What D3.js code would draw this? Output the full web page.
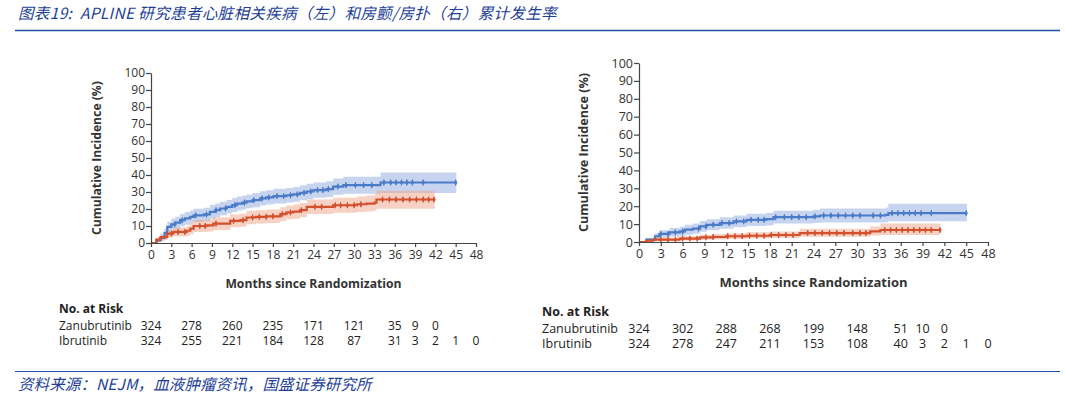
<!DOCTYPE html>
<html><head><meta charset="utf-8">
<script src="https://cdn.jsdelivr.net/npm/d3@7"></script>
<style>body{margin:0;background:#fff} svg{display:block}</style>
</head><body><svg id="c" width="1065" height="397"></svg>
<script>
const titleText = "图表19:  APLINE 研究患者心脏相关疾病（左）和房颤/房扑（右）累计发生率";
const sourceText = "资料来源：NEJM，血液肿瘤资讯，国盛证券研究所";
const xTicks = [0,3,6,9,12,15,18,21,24,27,30,33,36,39,42,45,48];
const yTicks = [0,10,20,30,40,50,60,70,80,90,100];
const xAxisTitle = "Months since Randomization";
const yAxisTitle = "Cumulative Incidence (%)";
const riskTitle = "No. at Risk";
const seriesNames = ["Zanubrutinib","Ibrutinib"];
const riskMonths = [0,6,12,18,24,30,36,39,42,45,48];

// Left panel: cardiac disorders
const leftZanuMonths = [0,0.8,1.4,2.0,2.4,3.0,3.6,4.3,5.0,5.8,6.3,7.8,8.7,9.5,10.2,11.2,12.0,12.7,13.5,14.1,15.0,16.1,17.0,18.1,20.0,21.0,22.0,23.0,24.0,25.9,26.9,28.4,33.9,45.1];
const leftZanuEst   = [0,1.5,3,6,9.5,11,12,13.4,14.5,15.4,16.3,16.8,18.3,19.3,20.3,21.3,22.3,23.2,23.8,24.5,25.2,26.2,26.8,27.6,28.1,28.6,29.5,30.3,31.1,31.7,33.2,34.0,35.6,35.6];
const leftZanuLower = [0,0.5,1.2,3.5,6.5,7.8,8.6,9.8,10.8,11.6,12.4,12.9,14.3,15.3,16.3,17.3,18.3,19.1,19.7,20.4,21.0,22.0,22.6,23.3,23.8,24.2,25.1,25.8,26.6,27.1,28.4,29.0,29.4,29.4];
const leftZanuUpper = [0,2.5,4.8,8.5,12.5,14.4,15.5,17.0,18.2,19.2,20.2,20.7,22.3,23.3,24.3,25.3,26.4,27.3,27.9,28.6,29.4,30.4,31.0,31.9,32.4,33.0,33.9,34.8,35.6,36.3,38.0,39.0,41.5,41.5];
const leftZanuCensor = [3.5,4.6,6.6,8.2,9.6,11.0,12.4,13.8,15.2,16.4,17.4,18.6,19.6,20.6,21.6,22.6,23.6,24.6,25.4,26.2,27.6,28.8,30.2,31.4,32.6,34.4,35.4,36.2,37.0,37.8,38.6,40.2,45.0];
const leftIbruMonths = [0,0.8,1.4,2.4,3.3,5.3,5.8,6.3,8.3,9.2,11.7,13.2,14.1,15.5,17.1,19.1,20.0,21.0,22.0,23.0,26.9,30.4,31.8,33.0,33.3,41.9];
const leftIbruEst   = [0,2,3.5,5.5,6.5,7.2,8.5,10,10.4,11.4,13,13.4,15,15.4,15.7,17,18,18.5,19.3,21.3,22.2,22.8,23.2,23.8,25.6,25.6];
const leftIbruLower = [0,0.8,1.8,3.2,3.8,4.2,5.2,6.5,6.8,7.7,9.2,9.6,11.1,11.5,11.7,12.9,13.9,14.3,15.1,17.0,17.8,18.2,18.5,19.0,20.2,20.2];
const leftIbruUpper = [0,3.2,5.2,7.8,9.2,10.2,11.8,13.5,14.0,15.1,16.8,17.2,18.9,19.3,19.7,21.1,22.1,22.7,23.5,25.6,26.6,27.4,27.9,28.6,30.8,30.8];
const leftIbruCensor = [3.0,4.0,5.0,7.2,8.0,9.6,12.2,13.6,15.0,16.0,17.0,18.0,19.4,20.6,22.2,24.2,25.2,27.2,28.0,29.0,30.0,31.0,34.2,35.2,36.2,37.2,38.2,39.2,40.2,41.0,41.8];

// Right panel: atrial fibrillation / flutter
const rightZanuMonths = [0,1.0,2.2,2.8,4.2,5.6,6.3,7.4,8.4,9.3,11.1,13.0,14.8,17.5,18.5,24.0,24.9,33.9,34.3,45.1];
const rightZanuEst   = [0,1.3,3.2,4.5,5.4,5.9,6.9,7.5,8.7,9.6,10.6,11.5,12.4,12.8,13.9,14.3,14.8,15.2,16.1,16.1];
const rightZanuLower = [0,0.3,1.5,2.4,3.0,3.3,4.1,4.6,5.7,6.5,7.4,8.2,9.0,9.3,10.3,10.6,10.9,11.1,11.6,11.6];
const rightZanuUpper = [0,2.3,4.9,6.6,7.8,8.5,9.7,10.4,11.7,12.7,13.8,14.8,15.8,16.3,17.5,18.0,18.7,19.3,21.4,21.4];
const rightZanuCensor = [3.0,4.0,5.0,6.0,8.2,9.2,10.2,11.4,12.4,13.4,14.4,15.4,16.4,17.2,18.8,20.0,21.0,22.0,23.0,24.2,25.4,26.4,27.4,28.4,29.4,30.4,32.2,33.2,34.8,35.6,36.4,37.2,38.0,38.8,40.2,45.0];
const rightIbruMonths = [0,1.0,1.9,5.6,8.4,10.2,12.0,14.8,18.0,22.1,31.8,33.2,41.4];
const rightIbruEst   = [0,0.7,1.3,1.9,2.6,2.8,3.2,3.5,3.9,5.0,5.9,6.7,6.7];
const rightIbruLower = [0,0.1,0.4,0.8,1.3,1.4,1.7,1.9,2.2,3.0,3.6,3.9,3.9];
const rightIbruUpper = [0,1.5,2.4,3.2,4.1,4.4,4.9,5.4,5.9,7.4,8.6,10.3,10.3];
const rightIbruCensor = [3.0,4.0,5.0,6.0,7.0,8.0,9.2,10.2,12.2,13.2,14.2,15.2,16.2,17.2,18.2,19.2,20.2,21.2,23.2,24.2,25.2,26.2,27.2,28.2,29.4,30.4,31.2,33.8,34.6,35.4,36.2,37.0,37.8,38.6,39.4,40.2,41.4];

const leftRiskZanu  = [324,278,260,235,171,121,35,9,0];
const leftRiskIbru  = [324,255,221,184,128,87,31,3,2,1,0];
const rightRiskZanu = [324,302,288,268,199,148,51,10,0];
const rightRiskIbru = [324,278,247,211,153,108,40,3,2,1,0];

const BLUE = "#4a7bc8", RED = "#d4502c";
const BLUE_BAND = "#8fa9e0", RED_BAND = "#f0a48a";
const FONT = "'Open Sans', 'Noto Sans', sans-serif";
const CJK = "'Noto Sans CJK SC', sans-serif";
const svg = d3.select("#c");
svg.append("rect").attr("width",1065).attr("height",397).attr("fill","#fff");

// Header & footer
svg.append("text").attr("x",18).attr("y",19).attr("font-family",CJK).attr("font-size",15.5)
  .attr("letter-spacing",0.35).attr("xml:space","preserve").style("white-space","pre")
  .attr("font-style","italic").attr("fill","#1d3f97").text(titleText);
svg.append("line").attr("x1",15).attr("x2",1060).attr("y1",30.5).attr("y2",30.5)
  .attr("stroke","#1f4fa8").attr("stroke-width",1.6);
svg.append("line").attr("x1",15).attr("x2",1060).attr("y1",371.5).attr("y2",371.5)
  .attr("stroke","#1f4fa8").attr("stroke-width",1);
svg.append("text").attr("x",18).attr("y",390).attr("font-family",CJK).attr("font-size",15.5)
  .attr("letter-spacing",0.1)
  .attr("font-style","italic").attr("fill","#1d3f97").text(sourceText);

function stepAt(months, vals, t){
  let v = vals[0];
  for (let i=0;i<months.length;i++){ if (months[i] <= t) v = vals[i]; }
  return v;
}

function panel(cfg){
  const x = d3.scaleLinear().domain([0,48]).range([cfg.x0,cfg.x1]);
  const y = d3.scaleLinear().domain([0,100]).range([cfg.y0,cfg.y1]);
  const g = svg.append("g");
  const series = [
    {m:cfg.zm, e:cfg.ze, lo:cfg.zl, hi:cfg.zu, c:cfg.zc, col:BLUE, band:BLUE_BAND},
    {m:cfg.im, e:cfg.ie, lo:cfg.il, hi:cfg.iu, c:cfg.ic, col:RED, band:RED_BAND}
  ];
  series.forEach(s=>{
    const pts = s.m.map((m,i)=>({m, e:s.e[i], lo:s.lo[i], hi:s.hi[i]}));
    g.append("path").datum(pts)
      .attr("d", d3.area().curve(d3.curveStepAfter).x(d=>x(d.m)).y0(d=>y(d.lo)).y1(d=>y(d.hi)))
      .attr("fill", s.band).attr("fill-opacity",0.5);
  });
  series.forEach(s=>{
    const pts = s.m.map((m,i)=>({m, e:s.e[i]}));
    g.append("path").datum(pts)
      .attr("d", d3.line().curve(d3.curveStepAfter).x(d=>x(d.m)).y(d=>y(d.e)))
      .attr("fill","none").attr("stroke", s.col).attr("stroke-width",2.2);
    const sym = d3.symbol().type(d3.symbolDiamond).size(cfg.ms);
    g.selectAll(null).data(s.c).join("path")
      .attr("transform", t=>`translate(${x(t)},${y(stepAt(s.m,s.e,t))})`)
      .attr("d", sym).attr("fill", s.col);
    g.selectAll(null).data(s.c).join("line")
      .attr("x1", t=>x(t)).attr("x2", t=>x(t))
      .attr("y1", t=>y(stepAt(s.m,s.e,t))-3).attr("y2", t=>y(stepAt(s.m,s.e,t))+3)
      .attr("stroke", s.col).attr("stroke-width",1);
  });

  const ax = g.append("g").attr("transform",`translate(0,${cfg.y0})`)
    .call(d3.axisBottom(x).tickValues(xTicks).tickSize(4).tickSizeOuter(0).tickPadding(3));
  const ay = g.append("g").attr("transform",`translate(${cfg.x0},0)`)
    .call(d3.axisLeft(y).tickValues(yTicks).tickSize(5).tickSizeOuter(0).tickPadding(1));
  [ax,ay].forEach(a=>{
    a.selectAll("path,line").attr("stroke","#444").attr("stroke-width",1.2);
    a.selectAll("text").attr("font-family",FONT).attr("font-size",cfg.fs).attr("fill","#333");
  });
  g.append("text").attr("x",(cfg.x0+cfg.x1)/2).attr("y",cfg.y0+45)
    .attr("text-anchor","middle").attr("font-family",FONT).attr("font-weight","bold")
    .attr("font-size",cfg.afs).attr("fill","#333").text(xAxisTitle);
  g.append("text").attr("transform",`translate(${cfg.x0-cfg.ytOff},${(cfg.y0+cfg.y1)/2}) rotate(-90)`)
    .attr("text-anchor","middle").attr("font-family",FONT).attr("font-weight","bold")
    .attr("font-size",cfg.yfs).attr("fill","#333").text(yAxisTitle);

  // risk table
  const t = g.append("g").attr("font-family",FONT).attr("font-size",cfg.tfs).attr("fill","#222");
  t.append("text").attr("x",cfg.tx).attr("y",cfg.ty[0]).attr("font-weight","bold").text(riskTitle);
  [cfg.rz, cfg.ri].forEach((arr,k)=>{
    t.append("text").attr("x",cfg.tx).attr("y",cfg.ty[k+1]).text(seriesNames[k]);
    t.selectAll(null).data(arr).join("text")
      .attr("x",(d,i)=>x(riskMonths[i])).attr("y",cfg.ty[k+1])
      .attr("text-anchor","middle").text(d=>d);
  });
}

panel({x0:151,x1:476,y0:243,y1:73,fs:12,afs:12.2,yfs:12.2,ms:10,ytOff:50,
  zm:leftZanuMonths,ze:leftZanuEst,zl:leftZanuLower,zu:leftZanuUpper,zc:leftZanuCensor,
  im:leftIbruMonths,ie:leftIbruEst,il:leftIbruLower,iu:leftIbruUpper,ic:leftIbruCensor,
  rz:leftRiskZanu,ri:leftRiskIbru,tx:59,ty:[313,330,345],tfs:12});
panel({x0:639,x1:988,y0:242,y1:63,fs:12.5,afs:13,yfs:12.6,ms:10,ytOff:51,
  zm:rightZanuMonths,ze:rightZanuEst,zl:rightZanuLower,zu:rightZanuUpper,zc:rightZanuCensor,
  im:rightIbruMonths,ie:rightIbruEst,il:rightIbruLower,iu:rightIbruUpper,ic:rightIbruCensor,
  rz:rightRiskZanu,ri:rightRiskIbru,tx:542,ty:[316,333,348],tfs:12.5});
</script></body></html>
